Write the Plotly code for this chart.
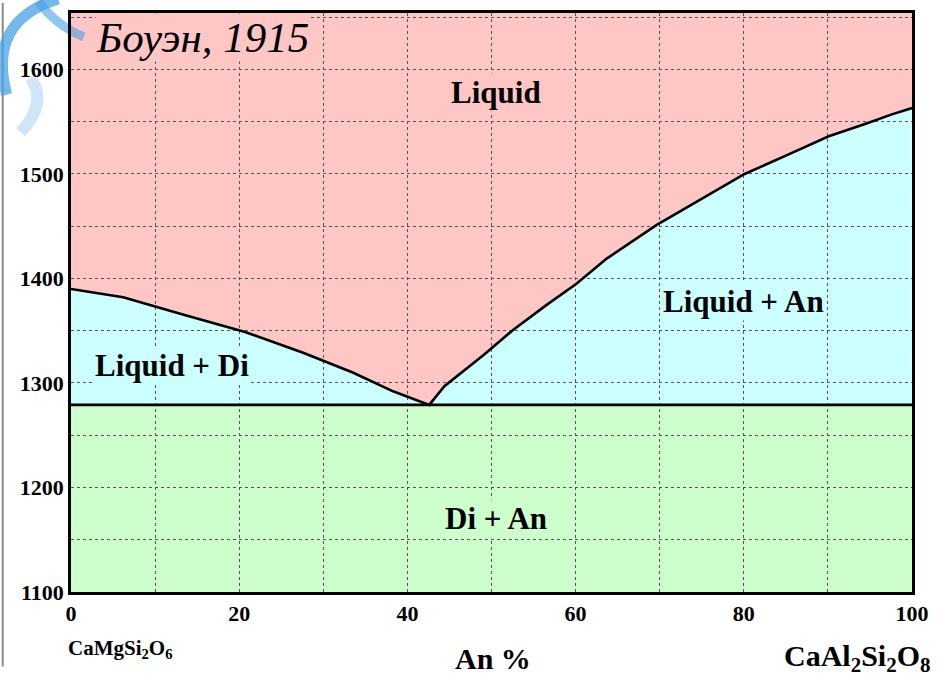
import plotly.graph_objects as go

# Diopside–anorthite system (Bowen, 1915): liquidus in wt.% An vs temperature, °C
liq_x = [0, 6.2, 13.5, 20.6, 27.6, 33.5, 38.3, 42.6,
         44.4, 49.1, 52.6, 56.6, 60.1, 63.7, 69.6, 75.5, 80.1, 85.4, 90.1, 94.5, 97.6, 100]
liq_t = [1390, 1382, 1365, 1349, 1329, 1310, 1292, 1279,
         1297, 1327, 1351, 1375, 1395, 1419, 1451, 1479, 1500, 1519, 1536, 1548, 1557, 1563]
eutectic_t = 1279
x_range = [0, 100]
t_range = [1100, 1654]

x_ticks = [0, 20, 40, 60, 80, 100]
t_ticks = [1100, 1200, 1300, 1400, 1500, 1600]

region_labels = ["Liquid", "Liquid + An", "Liquid + Di", "Di + An"]
region_x = [50.5, 80, 12, 50.5]
region_t = [1578, 1378, 1317, 1170]

PINK = "#FFC6C6"
CYAN = "#CCFFFF"
GREEN = "#CCFFCC"
SERIF = "Liberation Serif, Times New Roman, Tinos, serif"

# plot box in pixels, used to place decorations outside the axes
L, R, T, B = 71, 921, 10, 592


def px(xpix):
    return (xpix - L) / (R - L)


def py(ypix):
    return (B - ypix) / (B - T)


fig = go.Figure()

# Liquid + crystal field: between liquidus and eutectic isotherm
path = "M {} {} ".format(liq_x[0], eutectic_t)
path += " ".join("L {} {}".format(x, t) for x, t in zip(liq_x, liq_t))
path += " L {} {} Z".format(liq_x[-1], eutectic_t)

shapes = [
    dict(type="path", path=path, xref="x", yref="y", layer="below",
         fillcolor=CYAN, line=dict(width=0)),
    dict(type="rect", x0=x_range[0], x1=x_range[1], y0=t_range[0], y1=eutectic_t,
         xref="x", yref="y", layer="below", fillcolor=GREEN, line=dict(width=0)),
    # page edge rule
    dict(type="line", xref="paper", yref="paper", x0=px(2), x1=px(2), y0=py(0), y1=py(667),
         line=dict(color="#8a8a8a", width=2), layer="below"),
    # corner emblem strokes
    dict(type="path", xref="paper", yref="paper", layer="below",
         path="M {} {} Q {} {} {} {}".format(px(58), py(-4), px(-14), py(18), px(6), py(92)),
         line=dict(color="rgba(70,160,230,0.75)", width=11)),
    dict(type="path", xref="paper", yref="paper", layer="below",
         path="M {} {} Q {} {} {} {}".format(px(38), py(-2), px(55), py(22), px(84), py(34)),
         line=dict(color="rgba(70,160,230,0.6)", width=9)),
    dict(type="path", xref="paper", yref="paper", layer="below",
         path="M {} {} Q {} {} {} {}".format(px(30), py(75), px(48), py(100), px(20), py(130)),
         line=dict(color="rgba(150,200,240,0.45)", width=12)),
]

# Liquidus curve
fig.add_trace(go.Scatter(x=liq_x, y=liq_t, mode="lines",
                         line=dict(color="black", width=2.6), hoverinfo="skip"))
# Eutectic isotherm
fig.add_trace(go.Scatter(x=x_range, y=[eutectic_t, eutectic_t], mode="lines",
                         line=dict(color="black", width=2.6), hoverinfo="skip"))

bgs = [PINK, CYAN, CYAN, GREEN]
annotations = []
for lab, x, t, bg in zip(region_labels, region_x, region_t, bgs):
    annotations.append(dict(x=x, y=t, xref="x", yref="y", text="<b>%s</b>" % lab,
                            showarrow=False, bgcolor=bg, borderpad=1,
                            font=dict(family=SERIF, size=31, color="black")))

annotations += [
    dict(x=px(95), y=py(10), xref="paper", yref="paper", xanchor="left", yanchor="top",
         text="<i>Боуэн, 1915</i>", showarrow=False, bgcolor=PINK, borderpad=0,
         font=dict(family=SERIF, size=43, color="black")),
    dict(x=px(498), y=py(640), xref="paper", yref="paper", xanchor="center", yanchor="top",
         text="<b>An %</b>", showarrow=False,
         font=dict(family=SERIF, size=30, color="black")),
    dict(x=px(66), y=py(634), xref="paper", yref="paper", xanchor="left", yanchor="top",
         text="<b>CaMgSi<sub>2</sub>O<sub>6</sub></b>", showarrow=False,
         font=dict(family=SERIF, size=21, color="black")),
    dict(x=px(942), y=py(637), xref="paper", yref="paper", xanchor="right", yanchor="top",
         text="<b>CaAl<sub>2</sub>Si<sub>2</sub>O<sub>8</sub></b>", showarrow=False,
         font=dict(family=SERIF, size=30, color="black")),
]

grid = dict(showgrid=True, gridcolor="#555555", gridwidth=1, griddash="3px,3px")

fig.update_layout(
    width=939, height=677,
    margin=dict(l=L, r=939 - R, t=T, b=677 - B),
    paper_bgcolor="white",
    plot_bgcolor=PINK,
    showlegend=False,
    shapes=shapes,
    annotations=annotations,
    xaxis=dict(range=x_range, tickvals=x_ticks, ticks="", showline=True, mirror=True,
               linecolor="black", linewidth=2.6, zeroline=False,
               tickfont=dict(family=SERIF, size=22, color="black", weight="bold"),
               minor=dict(dtick=10, tick0=0, **grid), **grid),
    yaxis=dict(range=t_range, tickvals=t_ticks, ticks="", showline=True, mirror=True,
               linecolor="black", linewidth=2.6, zeroline=False,
               tickfont=dict(family=SERIF, size=22, color="black", weight="bold"),
               minor=dict(dtick=50, tick0=1100, **grid), **grid),
)

fig.write_html("out.html")
